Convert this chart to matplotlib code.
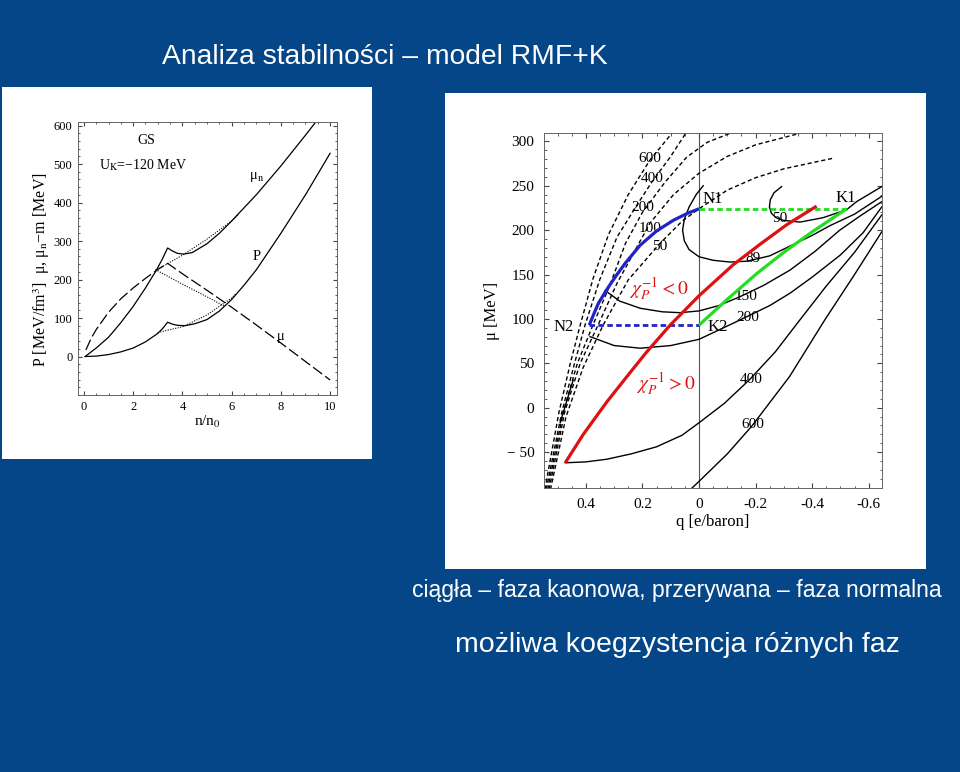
import matplotlib
matplotlib.use('Agg')
import matplotlib.pyplot as plt
from matplotlib.patches import Rectangle
from matplotlib.ticker import MultipleLocator, FixedLocator, FixedFormatter

plt.rcParams['mathtext.fontset'] = 'stix'
SERIF = 'Liberation Serif'
SANS = 'Liberation Sans'
BG = '#044688'

# ---------------- data: left panel (GS, U_K = -120 MeV) ----------------
mun_n = [0.05, 0.5, 1, 1.5, 2, 2.5, 2.95, 3.2, 3.4, 3.6, 3.8, 4.05, 4.4, 5, 5.5, 6, 7, 8, 9, 9.5]
mun_v = [0, 22, 50, 88, 130, 178, 225, 255, 282, 274, 268, 266, 270, 293, 320, 352, 420, 495, 575, 616]
P_n = [0.05, 0.5, 1, 1.5, 2, 2.5, 3, 3.2, 3.4, 3.6, 3.8, 4.1, 4.5, 5, 5.5, 6, 6.5, 7, 8, 9, 10]
P_v = [0, 1, 5, 12, 22, 38, 60, 73, 89, 84, 81, 80, 85, 96, 118, 148, 185, 225, 320, 420, 528]
mu_n = [0.08, 0.3, 0.5, 1, 1.5, 2, 2.5, 3, 3.4, 4, 5, 6, 7, 8, 9, 10]
mu_v = [17, 48, 70, 115, 150, 178, 203, 226, 242, 215, 172, 128, 82, 35, -13, -61]
mun_dot_n = [2.95, 3.5, 4, 5, 6, 6.27]
mun_dot_v = [225, 245, 263, 305, 352, 368]
P_dot_n = [3.0, 3.5, 4, 5, 6, 6.15]
P_dot_v = [62, 70, 77, 108, 152, 162]
mu_dot_n = [2.9, 4, 5, 5.7]
mu_dot_v = [226, 188, 155, 131]

# ---------------- data: right panel (mu vs q) ----------------
# normal phase (dashed), labelled
dash_labels = ['600', '400', '200', '100', '50']
dash_q = [
    [0.545, 0.495, 0.455, 0.42, 0.375, 0.32, 0.25, 0.173, 0.096, 0.08],
    [0.54, 0.485, 0.44, 0.403, 0.35, 0.29, 0.22, 0.167, 0.1, 0.047, 0.03],
    [0.535, 0.48, 0.43, 0.375, 0.315, 0.26, 0.2, 0.12, 0.044, -0.03, -0.11, -0.13],
    [0.53, 0.475, 0.42, 0.357, 0.29, 0.173, 0.09, 0.0, -0.1, -0.2, -0.357],
    [0.525, 0.47, 0.41, 0.339, 0.25, 0.138, 0.06, 0.0, -0.1, -0.2, -0.3, -0.475],
]
dash_mu = [
    [-92, -5, 50, 93, 145, 195, 240, 279, 309, 314],
    [-92, -5, 50, 93, 145, 192, 228, 254, 283, 309, 316],
    [-92, -5, 50, 93, 138, 185, 220, 254, 282, 299, 309, 311],
    [-92, -5, 50, 93, 140, 208, 240, 264, 283, 296, 309],
    [-92, -10, 45, 93, 144, 185, 210, 224, 245, 259, 269, 281],
]
dash_lab_q = [0.173, 0.167, 0.2, 0.173, 0.138]
dash_lab_mu = [281, 258, 226, 202, 181]

# kaon phase (solid), labelled
solid_labels = ['50', '89', '150', '200', '400', '600']
solid_q = [
    [-0.292, -0.265, -0.252, -0.249, -0.256, -0.272, -0.298, -0.357, -0.439, -0.522, -0.557, -0.646],
    [-0.015, 0.01, 0.035, 0.052, 0.058, 0.052, 0.035, 0.0, -0.05, -0.11, -0.17, -0.25, -0.322, -0.4, -0.463, -0.55, -0.646],
    [0.332, 0.28, 0.208, 0.13, 0.067, 0.0, -0.07, -0.145, -0.23, -0.322, -0.41, -0.498, -0.57, -0.646],
    [0.385, 0.3, 0.208, 0.1, 0.0, -0.12, -0.25, -0.322, -0.4, -0.5, -0.58, -0.646],
    [0.473, 0.4, 0.326, 0.24, 0.15, 0.06, -0.004, -0.09, -0.18, -0.27, -0.357, -0.45, -0.55, -0.646],
    [0.03, 0.0, -0.1, -0.186, -0.32, -0.445, -0.55, -0.646],
]
solid_mu = [
    [249, 242, 234, 226, 219, 214, 211, 209, 214, 223, 232, 249],
    [250, 240, 226, 212, 200, 188, 178, 170, 166, 164, 165, 171, 182, 194, 205, 218, 238],
    [132, 120, 112, 108, 107, 109, 115, 125, 138, 155, 176, 200, 216, 232],
    [80, 70, 67, 70, 77, 95, 115, 129, 147, 172, 197, 226],
    [-62, -61, -58, -52, -44, -31, -16, 5, 32, 63, 99, 137, 175, 217],
    [-92, -83, -52, -21, 35, 99, 150, 198],
]
solid_lab_q = [-0.286, -0.19, -0.168, -0.174, -0.184, -0.192]
solid_lab_mu = [213, 168, 125, 102, 32, -19]
small_q = [0.491, 0.445]
small_mu = [-17, 31]

# coexistence / stability lines
blue_q = [0.388, 0.37, 0.355, 0.320, 0.29, 0.26, 0.208, 0.15, 0.091, 0.04, 0.0]
blue_mu = [93, 107, 118, 136, 150, 163, 183, 199, 211, 219, 224]
green_q = [0.0, -0.1, -0.204, -0.3, -0.4, -0.522]
green_mu = [93, 122, 151, 175, 198, 224]
red_q = [0.473, 0.409, 0.326, 0.25, 0.187, 0.102, 0.0, -0.121, -0.22, -0.31, -0.416]
red_mu = [-62, -30, 6.5, 37, 62, 93, 126, 161, 185, 206, 227]
N2 = (0.388, 93); K2 = (0.0, 93); N1 = (0.0, 224); K1 = (-0.522, 224)

# ---------------- figure ----------------
W, H = 960, 772
fig = plt.figure(figsize=(W / 100, H / 100), dpi=100, facecolor=BG)


def rect(x0, y0, x1, y1):
    return [x0 / W, 1 - y1 / H, (x1 - x0) / W, (y1 - y0) / H]


for (x0, y0, x1, y1) in [(2, 87, 372, 459), (445, 93, 926, 569)]:
    r = rect(x0, y0, x1, y1)
    fig.add_artist(Rectangle((r[0], r[1]), r[2], r[3], transform=fig.transFigure,
                             facecolor='white', edgecolor='none', zorder=0))

fig.text(162 / W, 1 - 57 / H, 'Analiza stabilności – model RMF+K', color='white',
         fontsize=20.3, family=SANS, ha='left', va='center')
fig.text(677 / W, 1 - 590 / H, 'ciągła – faza kaonowa, przerywana – faza normalna',
         color='white', fontsize=16.6, family=SANS, ha='center', va='center')
fig.text(677 / W, 1 - 645 / H, 'możliwa koegzystencja różnych faz',
         color='white', fontsize=20.5, family=SANS, ha='center', va='center')

# ---------------- left panel ----------------
axL = fig.add_axes(rect(78, 121.7, 337, 395))
axL.set_facecolor('white')
axL.plot(mun_n, mun_v, color='black', lw=0.9)
axL.plot(P_n, P_v, color='black', lw=0.9)
axL.plot(mu_n, mu_v, color='black', lw=0.9, dashes=(9, 3))
for xs, ys in [(mun_dot_n, mun_dot_v), (P_dot_n, P_dot_v), (mu_dot_n, mu_dot_v)]:
    axL.plot(xs, ys, color='black', lw=0.8, ls=(0, (1, 1.3)))
axL.set_xlim(-0.24, 10.28)
axL.set_ylim(-100, 610)
axL.xaxis.set_major_locator(MultipleLocator(2))
axL.xaxis.set_minor_locator(MultipleLocator(0.5))
axL.yaxis.set_major_locator(FixedLocator([0, 100, 200, 300, 400, 500, 600]))
axL.yaxis.set_minor_locator(MultipleLocator(20))
axL.tick_params(which='both', direction='in', top=True, right=True, labelsize=9, pad=4, color='#444')
axL.tick_params(which='major', length=3)
axL.tick_params(which='minor', length=1.5)
for lab in axL.get_xticklabels() + axL.get_yticklabels():
    lab.set_family(SERIF)
for s in axL.spines.values():
    s.set_color('#666'); s.set_linewidth(0.7)
axL.set_xlabel('n/n$_0$', family=SERIF, fontsize=11, labelpad=1)
axL.set_ylabel('P [MeV/fm$^3$]  μ, μ$_\\mathrm{n}$−m [MeV]', family=SERIF, fontsize=11.5)
axL.yaxis.set_label_coords(-0.10, 0.46)
axL.text(2.55, 560, 'GS', family=SERIF, fontsize=10, ha='center', va='center')
axL.text(2.4, 497, 'U$_\\mathrm{K}$=−120 MeV', family=SERIF, fontsize=10, ha='center', va='center')
axL.text(7.0, 467, 'μ$_\\mathrm{n}$', family=SERIF, fontsize=10.5, ha='center', va='center')
axL.text(7.0, 260, 'P', family=SERIF, fontsize=10.5, ha='center', va='center')
axL.text(8.0, 52, 'μ', family=SERIF, fontsize=10.5, ha='center', va='center')

# ---------------- right panel ----------------
axR = fig.add_axes(rect(544, 133.3, 882, 488))
axR.set_facecolor('white')
axR.set_xlim(0.548, -0.647)
axR.set_ylim(-90.4, 309)
axR.axvline(0, color='#555', lw=0.8, zorder=1)
for qs, ms in zip(dash_q, dash_mu):
    axR.plot(qs, ms, color='black', lw=1.0, dashes=(3, 2))
for qs, ms in zip(solid_q, solid_mu):
    axR.plot(qs, ms, color='black', lw=1.0)
axR.plot(small_q, small_mu, color='black', lw=1.0)
for lab, q, m in zip(dash_labels, dash_lab_q, dash_lab_mu):
    axR.text(q, m, lab, family=SERIF, fontsize=11, ha='center', va='center')
for lab, q, m in zip(solid_labels, solid_lab_q, solid_lab_mu):
    axR.text(q, m, lab, family=SERIF, fontsize=11, ha='center', va='center')

axR.plot(blue_q, blue_mu, color='#2222cc', lw=2.3, solid_capstyle='butt', zorder=4)
axR.plot([N2[0], K2[0]], [N2[1], K2[1]], color='#2222cc', lw=2.0, dashes=(2, 1.2), zorder=4)
axR.plot(green_q, green_mu, color='#22dd22', lw=2.3, solid_capstyle='butt', zorder=4)
axR.plot([N1[0], K1[0]], [N1[1], K1[1]], color='#22dd22', lw=2.0, dashes=(2, 1.2), zorder=4)
axR.plot(red_q, red_mu, color='#dd1111', lw=2.3, solid_capstyle='butt', zorder=5)

axR.text(0.48, 91, 'N2', family=SERIF, fontsize=12, ha='center', va='center')
axR.text(-0.048, 235, 'N1', family=SERIF, fontsize=12, ha='center', va='center')
axR.text(-0.52, 236, 'K1', family=SERIF, fontsize=12, ha='center', va='center')
axR.text(-0.067, 91, 'K2', family=SERIF, fontsize=12, ha='center', va='center')
axR.text(0.141, 133, r'$\chi_P^{-1} < 0$', color='#dd1111', fontsize=14, ha='center', va='center')
axR.text(0.117, 26, r'$\chi_P^{-1} > 0$', color='#dd1111', fontsize=14, ha='center', va='center')

xt = [0.4, 0.2, 0.0, -0.2, -0.4, -0.6]
xtl = ['0.4', '0.2', '0', '-0.2', '-0.4', '-0.6']
yt = [-50, 0, 50, 100, 150, 200, 250, 300]
ytl = ['− 50', '0', '50', '100', '150', '200', '250', '300']
axR.xaxis.set_major_locator(FixedLocator(xt))
axR.xaxis.set_major_formatter(FixedFormatter(xtl))
axR.xaxis.set_minor_locator(MultipleLocator(0.05))
axR.yaxis.set_major_locator(FixedLocator(yt))
axR.yaxis.set_major_formatter(FixedFormatter(ytl))
axR.yaxis.set_minor_locator(MultipleLocator(10))
axR.tick_params(which='both', direction='in', top=True, right=True, labelsize=11, pad=7, color='#444')
axR.tick_params(which='major', length=3.5)
axR.tick_params(which='minor', length=1.8)
for lab in axR.get_xticklabels() + axR.get_yticklabels():
    lab.set_family(SERIF)
for s in axR.spines.values():
    s.set_color('#666'); s.set_linewidth(0.7)
axR.set_xlabel('q [e/baron]', family=SERIF, fontsize=12, labelpad=2)
axR.set_ylabel('μ [MeV]', family=SERIF, fontsize=12, labelpad=5)

fig.savefig('out.png', dpi=100, facecolor=BG)
